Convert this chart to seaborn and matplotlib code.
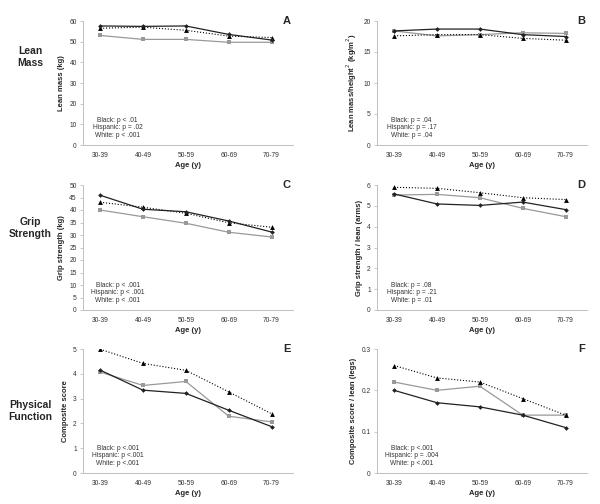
import numpy as np
import pandas as pd
import matplotlib
matplotlib.use("Agg")
import matplotlib.pyplot as plt
import seaborn as sns

ages = ['30-39', '40-49', '50-59', '60-69', '70-79']

# panel A - lean mass (kg)
lean_black = [57.6, 57.4, 57.6, 53.5, 50.8]
lean_hisp = [53.0, 51.1, 51.1, 49.7, 49.7]
lean_white = [56.5, 57.0, 55.5, 52.7, 52.0]
# panel B - lean mass / height^2
lmh_black = [18.4, 18.7, 18.7, 17.8, 17.5]
lmh_hisp = [18.4, 17.6, 17.8, 18.1, 18.0]
lmh_white = [17.6, 17.8, 17.8, 17.2, 16.9]
# panel C - grip strength (kg)
grip_black = [45.9, 40.3, 39.3, 35.6, 31.2]
grip_hisp = [40.0, 37.3, 34.7, 31.1, 29.2]
grip_white = [43.1, 41.1, 38.7, 34.9, 33.1]
# panel D - grip / lean arms
gla_black = [5.57, 5.09, 5.02, 5.18, 4.82]
gla_hisp = [5.52, 5.55, 5.39, 4.88, 4.48]
gla_white = [5.89, 5.84, 5.63, 5.39, 5.30]
# panel E - composite score
comp_black = [4.15, 3.34, 3.21, 2.53, 1.87]
comp_hisp = [4.07, 3.53, 3.69, 2.29, 2.06]
comp_white = [4.99, 4.42, 4.14, 3.27, 2.39]
# panel F - composite / lean legs
cll_black = [0.20, 0.17, 0.16, 0.14, 0.11]
cll_hisp = [0.22, 0.20, 0.21, 0.14, 0.14]
cll_white = [0.26, 0.23, 0.22, 0.18, 0.14]

panels = [
    ('A', lean_black, lean_hisp, lean_white, 'Lean mass (kg)', 60, 10,
     'Black: p < .01\nHispanic: p = .02\nWhite: p < .001'),
    ('B', lmh_black, lmh_hisp, lmh_white, 'Lean mass/height$^2$ (kg/m$^2$)', 20, 5,
     'Black: p = .04\nHispanic: p = .17\nWhite: p = .04'),
    ('C', grip_black, grip_hisp, grip_white, 'Grip strength (kg)', 50, 5,
     'Black: p < .001\nHispanic: p < .001\nWhite: p < .001'),
    ('D', gla_black, gla_hisp, gla_white, 'Grip strength / lean (arms)', 6, 1,
     'Black: p = .08\nHispanic: p = .21\nWhite: p = .01'),
    ('E', comp_black, comp_hisp, comp_white, 'Composite score', 5, 1,
     'Black: p <.001\nHispanic: p <.001\nWhite: p <.001'),
    ('F', cll_black, cll_hisp, cll_white, 'Composite score / lean (legs)', 0.3, 0.1,
     'Black: p <.001\nHispanic: p = .004\nWhite: p <.001'),
]
row_titles = ['Lean\nMass', 'Grip\nStrength', 'Physical\nFunction']

sns.set_style("white")
plt.rcParams['font.family'] = ['Liberation Sans', 'DejaVu Sans']

fig = plt.figure(figsize=(6, 5.04), dpi=100)
W, H = 600, 504
# axes boxes in pixels: left, top, right, bottom
lefts = [83, 377]
rights = [293, 587]
tops = [21, 185, 349]
bottoms = [145, 310, 473]
title_y = [57, 228, 411]

for k, (letter, b, h, w, ylab, ymax, step, note) in enumerate(panels):
    r, c = divmod(k, 2)
    ax = fig.add_axes([lefts[c] / W, 1 - bottoms[r] / H,
                       (rights[c] - lefts[c]) / W, (bottoms[r] - tops[r]) / H])
    df = pd.DataFrame({'age': ages, 'Black': b, 'Hispanic': h, 'White': w})
    sns.lineplot(data=df, x='age', y='Hispanic', ax=ax, color='#999999', lw=0.9,
                 marker='s', markersize=3.2, markeredgewidth=0, sort=False)
    sns.lineplot(data=df, x='age', y='White', ax=ax, color='black', lw=0.8,
                 linestyle=':', marker='^', markersize=3.5, markeredgewidth=0, sort=False)
    sns.lineplot(data=df, x='age', y='Black', ax=ax, color='#222222', lw=0.9,
                 marker='D', markersize=2.4, markeredgewidth=0, sort=False)
    ax.set_xlim(-0.4, 4.5)
    ax.set_ylim(0, ymax)
    ax.set_yticks(np.arange(0, ymax + step / 2, step))
    if ymax < 1:
        ax.set_yticklabels(['0', '0.1', '0.2', '0.3'])
    for s in ['top', 'right']:
        ax.spines[s].set_visible(False)
    for s in ['left', 'bottom']:
        ax.spines[s].set_color('#c0c0c0')
        ax.spines[s].set_linewidth(0.7)
    ax.tick_params(axis='y', length=2.5, width=0.6, color='#c0c0c0', labelsize=4.8,
                   pad=2, left=True, labelcolor='#333333')
    ax.tick_params(axis='x', length=0, labelsize=4.8, pad=5, labelcolor='#333333')
    ax.set_xlabel('Age (y)', fontsize=5.5, fontweight='bold', labelpad=2)
    ax.set_ylabel(ylab, fontsize=5.5, fontweight='bold', labelpad=3)
    ax.text(0.165, 0.05, note, transform=ax.transAxes, ha='center', va='bottom',
            fontsize=4.8, color='#333333', linespacing=1.1)
    ax.text(0.99, 1.0, letter, transform=ax.transAxes, ha='right', va='center',
            fontsize=8, fontweight='bold')

for r, t in enumerate(row_titles):
    fig.text(30 / W, 1 - title_y[r] / H, t, ha='center', va='center',
             fontsize=7.5, fontweight='bold', linespacing=1.2)

fig.savefig('out.png', dpi=100)
